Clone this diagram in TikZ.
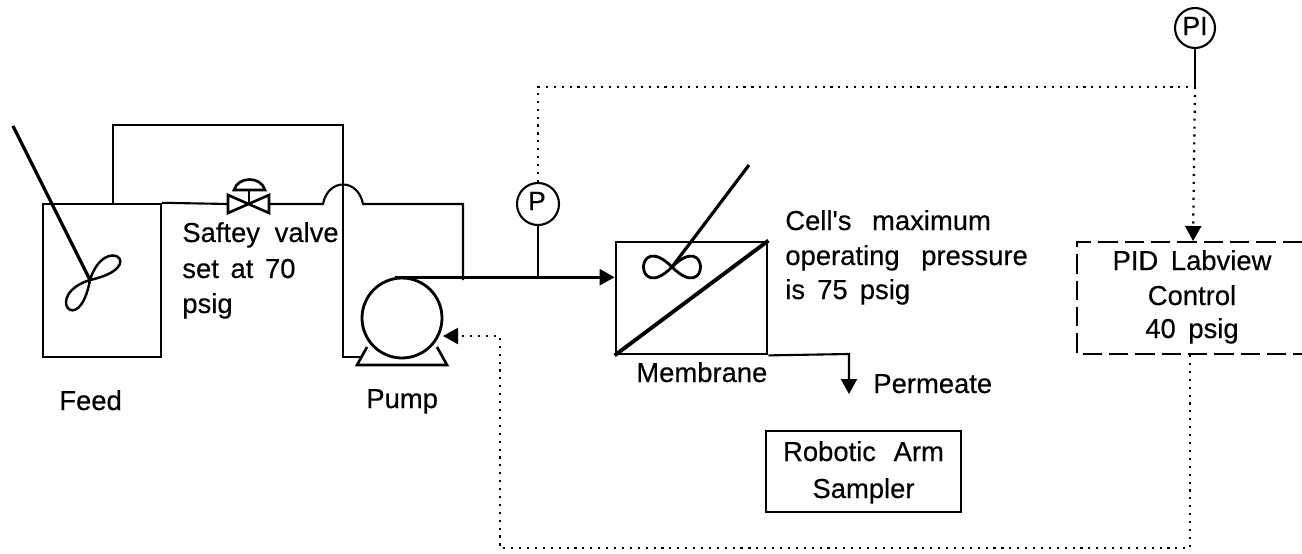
\documentclass[tikz,border=0pt]{standalone}
\usepackage{fontspec}
\setmainfont[FakeBold = .35]{Liberation Sans}
\usetikzlibrary{arrows.meta}
\tikzset{
  pipe/.style = {line width = 1.2pt},
  vessel/.style = {draw, line width = 1.4pt, inner sep = 0pt},
  heavy/.style = {line width = 1.8pt},
  sigline/.style = {line width = 1.3pt, dash pattern = on 1.2pt off 3.3pt},
  tip/.style = {-{Triangle[length = .3cm, width = .32cm]}},
  gauge/.style = {circle, draw, line width = 1.2pt, inner sep = 0pt},
  label/.style = {inner sep = 0pt, font = \fontsize{15.6}{20.4}\selectfont},
}
\begin{document}
\begin{tikzpicture}[x = .02cm, y = -.02cm]
      \useasboundingbox (0,0) rectangle (1302,554);
      \node [vessel, minimum width = 2.36cm, minimum height = 3.06cm] (feed) at (102,280.5) {};
      \node [vessel, circle, line width = 1.6pt, minimum size = 1.6cm] (pump) at (402,318) {};
      \node [vessel, line width = 1.6pt, minimum width = 3.02cm, minimum height = 2.24cm] (membrane) at (691.5,298) {};
      \node [vessel, minimum width = 3.9cm, minimum height = 1.62cm] (sampler) at (863.5,471.5) {};
      \node [gauge, minimum size = .84cm] (p) at (538,204) {};
      \node [gauge, minimum size = .8cm] (pi) at (1195,28) {};
      \node [label] (ptext) at (537,201) {\fontsize{15}{16}\selectfont P};
      \node [label] (pitext) at (1195,26) {\fontsize{15}{16}\selectfont PI};
      \coordinate (valve) at (249,204);
      \coordinate (humpin) at (323,204);
      \coordinate (humpout) at (363,204);
      \coordinate (riser) at (463,204);
      \coordinate (looptop) at (113,204);
      \coordinate (loopend) at (362,357);
      \coordinate (drain) at (849,354);
      \coordinate (permeate) at (849,394);
      \coordinate (sigjoin) at (1195,87);
      \coordinate (ctrltop) at (1193,241);
      \coordinate (ctrlbot) at (1190,355);
      \coordinate (pumpin) at (443,336);
      \coordinate (shaftfeed) at (13,126);
      \coordinate (propfeed) at (90,280);
      \coordinate (shaftcell) at (749,165);
      \coordinate (propcell) at (672,267);
      \draw [pipe] (looptop) --++ (0,-79) -| (343,357) -- (loopend);
      \draw [pipe] (feed.north east) -- (228,204);
      \draw [pipe] (269,204) -- (humpin) .. controls (328,178) and (358,178) .. (humpout) -- (riser) --++ (0,76);
      \draw [pipe, line width = 1.5pt] (228,195) -- (269,213) -- (269,195) -- (228,213) -- cycle;
      \draw [pipe] (valve) --++ (0,-14);
      \draw [pipe, line width = 1.5pt] (234,190) .. controls (238,176) and (261,176) .. (265,190) -- cycle;
      \draw [heavy] (shaftfeed) -- (propfeed);
      \draw [pipe, line width = 1.4pt] (propfeed) .. controls ++(15,-48) and ++(60,-13) .. (propfeed) .. controls ++(-48,15) and ++(-11,60) .. (propfeed);
      \draw [heavy, line width = 1.5pt] (367,347) -- (357,365) -- (447,365) -- (437,347);
      \draw [pipe, line width = 1.5pt, tip] (pump.100) -- (membrane.west |- pump.100);
      \draw [pipe] (p) -- (p |- pump.100);
      \draw [heavy, line width = 2.2pt] (membrane.south west) -- (membrane.north east);
      \draw [heavy] (shaftcell) -- (propcell);
      \draw [pipe, line width = 1.6pt] (propcell) .. controls ++(-38,-38) and ++(-38,38) .. (propcell) .. controls ++(38,-38) and ++(38,38) .. (propcell);
      \draw [pipe, tip] (membrane.south east) -- (drain) -- (permeate);
      \draw [pipe] (pi) -- (sigjoin);
      \draw [sigline] (p) -- (p |- sigjoin) -- (sigjoin);
      \draw [sigline, tip] (sigjoin) -- (ctrltop);
      \draw [sigline, tip] (ctrlbot) --++ (0,193) -- (500,548) -- (500,336) -- (pumpin);
      \draw [pipe, dash pattern = on 11pt off 4pt] (1302,242) -- (1077,242) -- (1077,354) -- (1302,354);
      \node [label, anchor = base west] (feedtext) at (59,410) {Feed};
      \node [label, anchor = base west] (pumptext) at (366,408) {Pump};
      \node [label, anchor = base west] (valvetext1) at (182,242) {Saftey\hspace{.14cm} valve};
      \node [label, anchor = base west] (valvetext2) at (182,278) {set\hspace{.08cm} at\hspace{.08cm} 70};
      \node [label, anchor = base west] (valvetext3) at (182,313) {psig};
      \node [label, anchor = base west] (celltext1) at (785,230) {Cell\textquotesingle s\hspace{.26cm} maximum};
      \node [label, anchor = base west] (celltext2) at (785,265) {operating\hspace{.28cm} pressure};
      \node [label, anchor = base west] (celltext3) at (785,299) {is\hspace{.09cm} 75\hspace{.09cm} psig};
      \node [label, anchor = base west] (membranetext) at (636,382) {Membrane};
      \node [label, anchor = base west] (permeatetext) at (873,393) {Permeate};
      \node [label, anchor = base] (samplertext1) at (863.5,461) {Robotic\hspace{.2cm} Arm};
      \node [label, anchor = base] (samplertext2) at (863.5,498) {Sampler};
      \node [label, anchor = base] (pidtext1) at (1192,270) {PID\hspace{.1cm} Labview};
      \node [label, anchor = base] (pidtext2) at (1192,305) {Control};
      \node [label, anchor = base] (pidtext3) at (1192,338) {40\hspace{.1cm} psig};
\end{tikzpicture}
\end{document}
